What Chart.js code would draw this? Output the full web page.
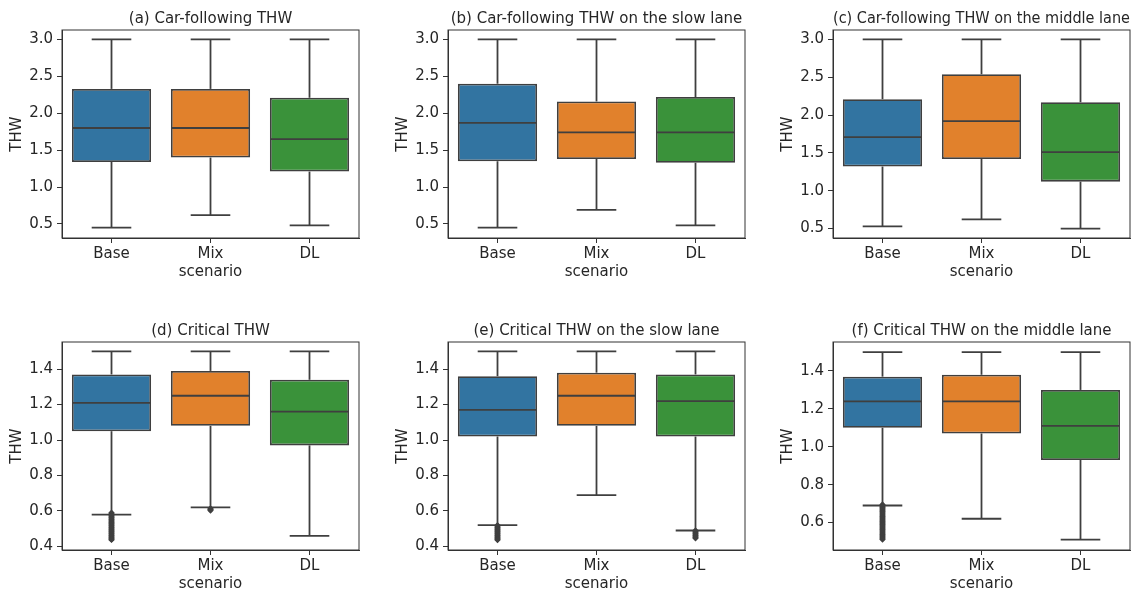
<!DOCTYPE html>
<html lang="en">
<head>
<meta charset="UTF-8">
<title>THW box plots</title>
<script src="https://cdn.jsdelivr.net/npm/chart.js"></script>
<style>
    body { margin: 0; background: #fff; }
    #fig { position: relative; width: 1138px; height: 593px; }
    .panel { position: absolute; }
</style>
</head>
<body>
<div id="fig"></div>
<script>
    // categories and colours
    const cats = ['Base', 'Mix', 'DL'];
    const boxColors = ['#3274a1', '#e1812c', '#3a923a'];
    const titles = [
        '(a) Car-following THW',
        '(b) Car-following THW on the slow lane',
        '(c) Car-following THW on the middle lane',
        '(d) Critical THW',
        '(e) Critical THW on the slow lane',
        '(f) Critical THW on the middle lane'
    ];

    // box statistics, one row per panel, columns Base / Mix / DL
    const whiskerLow = [
        [0.45, 0.62, 0.48],
        [0.45, 0.69, 0.48],
        [0.53, 0.62, 0.50],
        [0.58, 0.62, 0.46],
        [0.52, 0.69, 0.49],
        [0.69, 0.62, 0.51]
    ];
    const q1 = [
        [1.34, 1.40, 1.21],
        [1.35, 1.38, 1.33],
        [1.32, 1.42, 1.12],
        [1.05, 1.08, 0.97],
        [1.02, 1.08, 1.02],
        [1.10, 1.07, 0.93]
    ];
    const median = [
        [1.80, 1.80, 1.65],
        [1.87, 1.74, 1.74],
        [1.71, 1.92, 1.51],
        [1.21, 1.25, 1.16],
        [1.17, 1.25, 1.22],
        [1.24, 1.24, 1.11]
    ];
    const q3 = [
        [2.33, 2.33, 2.21],
        [2.40, 2.16, 2.22],
        [2.21, 2.54, 2.17],
        [1.37, 1.39, 1.34],
        [1.36, 1.38, 1.37],
        [1.37, 1.38, 1.30]
    ];
    const whiskerHigh = [
        [3.0, 3.0, 3.0],
        [3.0, 3.0, 3.0],
        [3.0, 3.0, 3.0],
        [1.5, 1.5, 1.5],
        [1.5, 1.5, 1.5],
        [1.5, 1.5, 1.5]
    ];

    // outliers per panel and scenario
    const outliers = [
        [[], [], []],
        [[], [], []],
        [[], [], []],
        [[0.59, 0.585, 0.58, 0.575, 0.57, 0.565, 0.56, 0.555, 0.55, 0.545, 0.54, 0.535, 0.53, 0.525, 0.52, 0.515,
          0.51, 0.505, 0.50, 0.495, 0.49, 0.485, 0.48, 0.475, 0.47, 0.465, 0.46, 0.455, 0.45, 0.445, 0.44, 0.437],
         [0.615, 0.61, 0.607, 0.603], []],
        [[0.52, 0.515, 0.51, 0.505, 0.50, 0.495, 0.49, 0.485, 0.48, 0.475, 0.47, 0.465, 0.46, 0.455, 0.45, 0.445,
          0.44, 0.436],
         [],
         [0.49, 0.485, 0.48, 0.475, 0.47, 0.465, 0.46, 0.455, 0.45, 0.446]],
        [[0.695, 0.69, 0.685, 0.68, 0.675, 0.67, 0.665, 0.66, 0.655, 0.65, 0.645, 0.64, 0.635, 0.63, 0.625, 0.62,
          0.615, 0.61, 0.605, 0.60, 0.595, 0.59, 0.585, 0.58, 0.575, 0.57, 0.565, 0.56, 0.555, 0.55, 0.545, 0.54,
          0.535, 0.53, 0.525, 0.52, 0.515, 0.51], [], []]
    ];

    // axis ranges and tick labels
    const yMin = [0.31, 0.31, 0.375, 0.38, 0.38, 0.455];
    const yMax = [3.128, 3.128, 3.125, 1.553, 1.553, 1.553];
    const topTicks = [0.5, 1.0, 1.5, 2.0, 2.5, 3.0];
    const bottomTicks = [0.4, 0.6, 0.8, 1.0, 1.2, 1.4];
    const middleLaneTicks = [0.6, 0.8, 1.0, 1.2, 1.4];
    const yTicks = [topTicks, topTicks, topTicks, bottomTicks, bottomTicks, middleLaneTicks];

    const LINE = '#3f3f3f';
    const TEXT = '#262626';
    Chart.defaults.font.family = "'DejaVu Sans', sans-serif";
    Chart.defaults.font.size = 15;
    Chart.defaults.color = TEXT;

    // whiskers, caps, medians and the axes frame
    const boxParts = {
        id: 'boxParts',
        afterDatasetsDraw(chart, args, opts) {
            const p = opts.panel;
            const ctx = chart.ctx;
            const xs = chart.scales.x, ys = chart.scales.y;
            const bars = chart.getDatasetMeta(0).data;
            ctx.save();
            ctx.strokeStyle = LINE;
            ctx.lineWidth = 1.8;
            const seg = (x1, y1, x2, y2) => {
                ctx.beginPath(); ctx.moveTo(x1, y1); ctx.lineTo(x2, y2); ctx.stroke();
            };
            cats.forEach((c, i) => {
                const cx = xs.getPixelForValue(i);
                const half = bars[i].width / 2;
                const lo = ys.getPixelForValue(whiskerLow[p][i]);
                const hi = ys.getPixelForValue(whiskerHigh[p][i]);
                const b = ys.getPixelForValue(q1[p][i]);
                const t = ys.getPixelForValue(q3[p][i]);
                const m = ys.getPixelForValue(median[p][i]);
                seg(cx, b, cx, lo);
                seg(cx - half / 2, lo, cx + half / 2, lo);
                seg(cx, t, cx, hi);
                seg(cx - half / 2, hi, cx + half / 2, hi);
                seg(cx - half + 1, m, cx + half - 1, m);
            });
            const a = chart.chartArea;
            ctx.strokeStyle = '#333';
            ctx.lineWidth = 1;
            ctx.strokeRect(a.left, a.top, a.right - a.left, a.bottom - a.top);
            ctx.restore();
        }
    };

    const panelLeft = [0, 386, 771];
    const panelTop = [0, 312];
    const panelWidth = [375, 375, 367];
    const panelHeight = 284;

    titles.forEach((title, p) => {
        const col = p % 3, row = Math.floor(p / 3);
        const div = document.createElement('div');
        div.className = 'panel';
        div.style.left = panelLeft[col] + 'px';
        div.style.top = panelTop[row] + 'px';
        div.style.width = panelWidth[col] + 'px';
        div.style.height = panelHeight + 'px';
        const canvas = document.createElement('canvas');
        div.appendChild(canvas);
        document.getElementById('fig').appendChild(div);

        const flierData = [];
        cats.forEach((c, i) => outliers[p][i].forEach(v => flierData.push({ x: c, y: v })));

        new Chart(canvas, {
            type: 'bar',
            data: {
                labels: cats,
                datasets: [{
                    data: cats.map((c, i) => [q1[p][i], q3[p][i]]),
                    backgroundColor: boxColors,
                    borderColor: LINE,
                    borderWidth: 1.8,
                    borderSkipped: false,
                    barPercentage: 0.8,
                    categoryPercentage: 1.0
                }, {
                    type: 'line',
                    data: flierData,
                    showLine: false,
                    pointStyle: 'rectRot',
                    pointRadius: 3.2,
                    backgroundColor: LINE,
                    borderColor: LINE,
                    borderWidth: 0
                }]
            },
            options: {
                responsive: true,
                maintainAspectRatio: false,
                animation: false,
                layout: { padding: { left: 0, top: 0, bottom: 0, right: panelWidth[col] - 62 - 297 } },
                plugins: {
                    legend: { display: false },
                    tooltip: { enabled: false },
                    title: {
                        display: true,
                        text: title,
                        fullSize: false,
                        color: TEXT,
                        font: { size: 15, weight: 'normal' },
                        padding: { top: 10, bottom: 2 }
                    },
                    boxParts: { panel: p }
                },
                scales: {
                    x: {
                        offset: true,
                        grid: { display: true, offset: false, drawOnChartArea: false, tickLength: 5, color: '#333' },
                        border: { color: '#333' },
                        ticks: { padding: 2, color: TEXT },
                        title: { display: true, text: 'scenario', color: TEXT, padding: { top: 0, bottom: 3 } },
                        afterFit(s) { s.height = 46; }
                    },
                    y: {
                        min: yMin[p],
                        max: yMax[p],
                        grid: { display: true, drawOnChartArea: false, tickLength: 5, color: '#333' },
                        border: { color: '#333' },
                        ticks: { padding: 4, color: TEXT, callback: v => v.toFixed(1) },
                        afterBuildTicks(s) { s.ticks = yTicks[p].map(v => ({ value: v })); },
                        title: { display: true, text: 'THW', color: TEXT, padding: { top: 8, bottom: 0 } },
                        afterFit(s) { s.width = 62; }
                    }
                }
            },
            plugins: [boxParts]
        });
    });
</script>
</body>
</html>
